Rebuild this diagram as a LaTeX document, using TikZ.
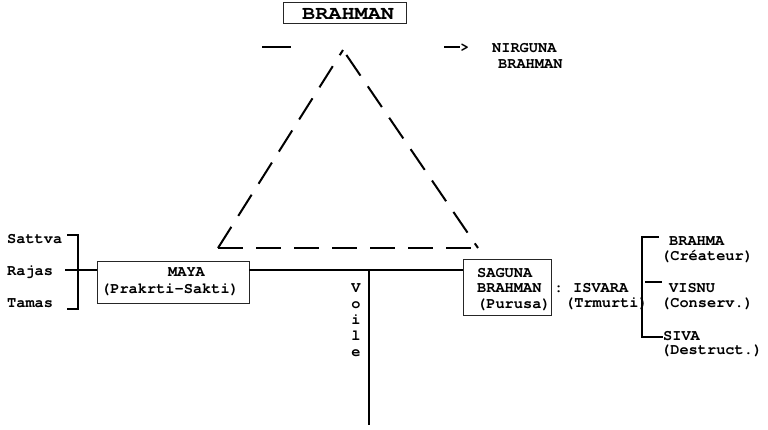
\documentclass[tikz,border=0pt]{standalone}
\usepackage{fontspec}
\setmainfont{texgyrecursor}[Extension=.otf, UprightFont=*-regular, BoldFont=*-bold]
\begin{document}
\begin{tikzpicture}[x=1pt,y=-1pt,
  txt/.style={font=\fontsize{15.3}{16}\selectfont\bfseries, inner sep=0pt, anchor=base west},
  box/.style={draw=black!85, line width=1pt},
  heavy/.style={line width=2.6pt},
  tri/.style={line width=2pt, dash pattern=on 25pt off 13pt}]
\useasboundingbox (0,0) rectangle (768,429);

% top title
\draw[box] (283,2) rectangle (406,23);
\node[inner sep=0pt, anchor=base west, font=\fontsize{19}{20}\selectfont\bfseries] (brahman) at (302,19) {\scalebox{1.15}[1]{BRAHMAN}};

% short lines and arrow
\coordinate (sl1) at (262,47); \coordinate (sl2) at (291,47);
\draw[line width=1.5pt] (sl1) -- (sl2);
\coordinate (ar1) at (444,47); \coordinate (ar2) at (460,47);
\draw[line width=1.5pt] (ar1) -- (ar2);
\node[txt] (gt) at (460,51.5) {>};
\node[txt] (nirguna) at (492,52.5) {NIRGUNA};
\node[txt] (nirgunab) at (498,68) {BRAHMAN};

% triangle
\coordinate (apex) at (343,50);
\coordinate (bl) at (218,248);
\coordinate (br) at (478,248);
\draw[tri] (bl) -- (br);
\draw[tri] (bl) -- (apex);
\draw[tri, dash phase=32pt] (apex) -- (br);

% left bracket: gunas
\node[txt] (sattva) at (7,243) {Sattva};
\node[txt] (rajas) at (7,275) {Rajas};
\node[txt] (tamas) at (7,307) {Tamas};
\coordinate (lb1) at (67,235); \coordinate (lb2) at (78,235);
\coordinate (lb3) at (78,309); \coordinate (lb4) at (67,309);
\draw[heavy] (lb1) -- (lb2) -- (lb3) -- (lb4);
\coordinate (rj1) at (65,270); \coordinate (rj2) at (97,270);
\draw[heavy] (rj1) -- (rj2);

% MAYA box
\draw[box] (97,261) rectangle (249,303);
\node[txt] (maya) at (168,276) {MAYA};
\node[txt] (prakrti) at (101,293) {(Prakrti-Sakti)};

% main horizontal and vertical (Voile)
\coordinate (h1) at (249,270); \coordinate (h2) at (463,270);
\draw[heavy] (h1) -- (h2);
\coordinate (v1) at (369,270); \coordinate (v2) at (369,425);
\draw[heavy] (v1) -- (v2);
\foreach \l/\yy [count=\i] in {V/292,o/308,i/324,l/340,e/356}
  \node[txt, anchor=base] (voile\i) at (356,\yy) {\l};

% SAGUNA box
\draw[box] (463,259) rectangle (551,315);
\node[txt] (saguna) at (477,277) {SAGUNA};
\node[txt] (sagunab) at (477,292) {BRAHMAN};
\node[txt] (purusa) at (477,308) {(Purusa)};
\node[txt] (colon) at (554,292) {:};
\node[txt] (isvara) at (573,292) {ISVARA};
\node[txt] (trmurti) at (565,307) {(Trmurti)};

% right bracket: trimurti
\coordinate (rb1) at (659,237); \coordinate (rb2) at (642,237);
\coordinate (rb3) at (642,337); \coordinate (rb4) at (663,337);
\draw[heavy] (rb1) -- (rb2) -- (rb3) -- (rb4);
\coordinate (rm1) at (645,282); \coordinate (rm2) at (662,282);
\draw[heavy] (rm1) -- (rm2);
\node[txt] (brahma) at (669,245) {BRAHMA};
\node[txt] (createur) at (661,260) {(Créateur)};
\node[txt] (visnu) at (669,292) {VISNU};
\node[txt] (conserv) at (661,307) {(Conserv.)};
\node[txt] (siva) at (663,340) {SIVA};
\node[txt] (destruct) at (661,354) {(Destruct.)};
\end{tikzpicture}
\end{document}
